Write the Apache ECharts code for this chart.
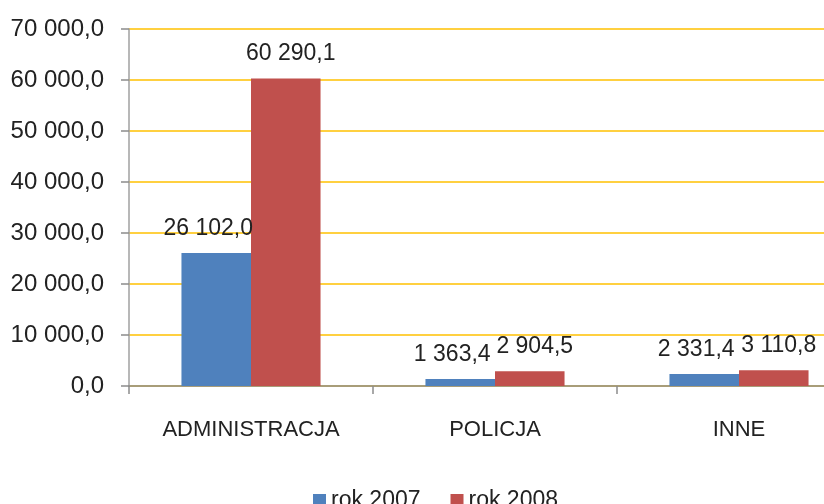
<!DOCTYPE html>
<html>
<head>
<meta charset="utf-8">
<script src="https://cdn.jsdelivr.net/npm/echarts@6/dist/echarts.min.js"></script>
<style>
html,body{margin:0;padding:0;background:#fff;overflow:hidden;}
/* wykres przycięty z prawej strony - kontener szerszy niż okno */
#chart{width:900px;height:504px;}
</style>
</head>
<body>
<div id="chart"></div>
<script>
// dane
var kategorie = ['ADMINISTRACJA', 'POLICJA', 'INNE'];
var rok2007 = [26102.0, 1363.4, 2331.4];
var rok2008 = [60290.1, 2904.5, 3110.8];
var serie = ['rok 2007', 'rok 2008'];

// format liczby: 60 290,1
function fmt(v){
	var s = Number(v).toFixed(1).split('.');
	var calk = s[0].replace(/\B(?=(\d{3})+(?!\d))/g, ' ');
	return calk + ',' + s[1];
}

var FONT = 'Liberation Sans';
var chart = echarts.init(document.getElementById('chart'));

// etykiety wartości nad słupkami, lekko rozsunięte na boki
function etykieta(dx){
	return {
		show:true, position:'top', distance:13, offset:[dx,0],
		fontSize:23, color:'#222', fontFamily:FONT,
		formatter:function(p){return fmt(p.value);}
	};
}

var opcje = {
	animation:false,
	textStyle:{fontFamily:FONT},
	grid:{left:129, right:39, top:29, bottom:118},
	legend:{
		data:serie,
		top:484,
		left:308,
		itemWidth:13,
		itemHeight:13,
		itemGap:30,
		icon:'rect',
		textStyle:{fontSize:23, color:'#222', fontFamily:FONT}
	},
	xAxis:{
		type:'category',
		data:kategorie,
		axisLine:{lineStyle:{color:'#8c8c8c', width:1.5}},
		axisTick:{show:true, length:8, lineStyle:{color:'#8c8c8c', width:1.5}},
		axisLabel:{fontSize:22, color:'#222', margin:33, fontFamily:FONT}
	},
	yAxis:{
		type:'value',
		min:0,
		max:70000,
		interval:10000,
		axisLine:{show:true, lineStyle:{color:'#a0a0a0', width:1.5}},
		axisTick:{show:true, length:8, lineStyle:{color:'#8c8c8c', width:1.5}},
		splitLine:{lineStyle:{color:'#FFC000', width:1.5}},
		axisLabel:{fontSize:24, color:'#222', margin:25, fontFamily:FONT, formatter:fmt}
	},
	series:[{
		name:serie[0],
		type:'bar',
		data:rok2007,
		barGap:'0%',
		barCategoryGap:'43%',
		itemStyle:{color:'#4F81BD'},
		label:etykieta(-8)
	},{
		name:serie[1],
		type:'bar',
		data:rok2008,
		barGap:'0%',
		barCategoryGap:'43%',
		itemStyle:{color:'#C0504D'},
		label:etykieta(5)
	}]
};

chart.setOption(opcje);
</script>
</body>
</html>
